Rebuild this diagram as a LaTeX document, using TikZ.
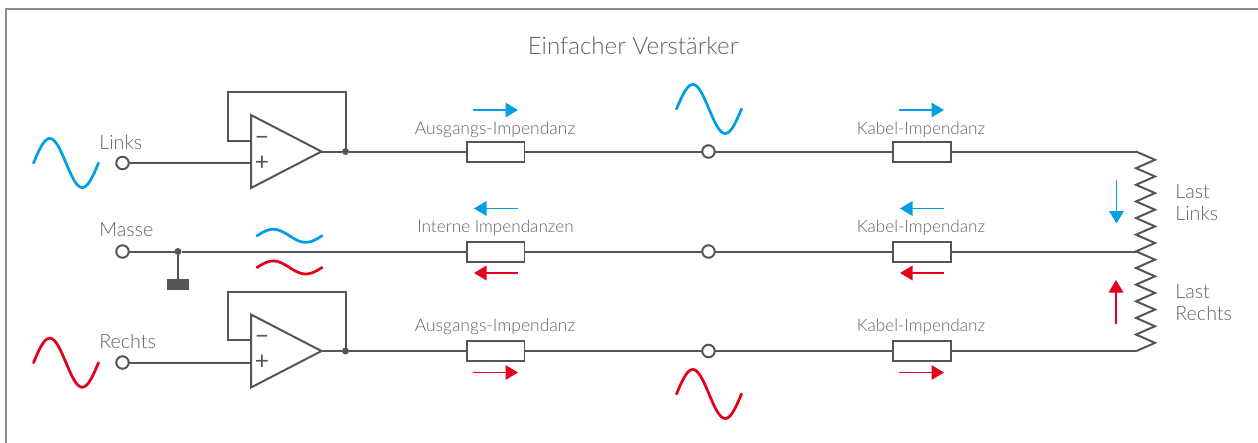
\documentclass[tikz,border=0pt]{standalone}
\usepackage{fontspec}
\setmainfont{Lato}[UprightFont=* Light]
\newfontfamily\zeichen{Lato}
\usetikzlibrary{arrows.meta, shapes.geometric}
\definecolor{wire}{HTML}{555555}
\definecolor{schrift}{HTML}{626262}
\definecolor{rahmen}{HTML}{8C8C98}
\definecolor{blau}{HTML}{009FE3}
\definecolor{rot}{HTML}{E2001A}
\tikzset{
	leitung/.style={draw=wire, line width=0.04cm, line join=miter},
	widerstand/.style={draw=wire, fill=white, line width=0.04cm, minimum width=1.16cm, minimum height=0.4cm, inner sep=0pt, outer sep=0pt},
	buchse/.style={circle, draw=wire, fill=white, line width=0.04cm, minimum size=0.25cm, inner sep=0pt, outer sep=0pt},
	punkt/.style={circle, fill=wire, minimum size=0.14cm, inner sep=0pt, outer sep=0pt},
	verstaerker/.style={isosceles triangle, isosceles triangle stretches, shape border rotate=0, anchor=lower side, draw=wire, line width=0.04cm, minimum height=1.41cm, minimum width=1.46cm, inner sep=0pt, outer sep=0pt},
	klein/.style={font=\fontsize{9.95pt}{11pt}\selectfont, text=schrift, inner sep=0pt},
	kabelText/.style={font=\fontsize{9.75pt}{11pt}\selectfont, text=schrift, inner sep=0pt},
	gross/.style={font=\fontsize{11.2pt}{12pt}\selectfont, text=schrift, inner sep=0pt, anchor=west},
	zeichenText/.style={font=\zeichen\fontsize{14pt}{14pt}\selectfont, text=wire, inner sep=0pt},
	strom/.style={-{Triangle[length=0.25cm, width=0.29cm]}, line width=0.035cm},
	welle/.style={line width=0.055cm, line cap=round}
}
\begin{document}
\begin{tikzpicture}[x=0.02cm, y=-0.02cm]
	\useasboundingbox (0, 0) rectangle (1258, 443);
	\draw[rahmen, line width=0.04cm] (1258, 9) -- (6, 9) -- (6, 443);
	\node[font=\fontsize{13.75pt}{15pt}\selectfont, text=schrift, inner sep=0pt] (titel) at (633, 46) {Einfacher Verstärker};

	% Eingaenge
	\node[buchse] (linksIn) at (122.5, 163) {};
	\node[buchse] (masseIn) at (122.5, 251.5) {};
	\node[buchse] (rechtsIn) at (122.5, 362.5) {};
	\node[gross] (linksText) at (99, 142) {Links};
	\node[gross] (masseText) at (99, 230) {Masse};
	\node[gross] (rechtsText) at (99, 341) {Rechts};

	% Verstaerker
	\node[verstaerker] (ampL) at (251, 151.5) {};
	\node[verstaerker] (ampR) at (251, 351) {};
	\node[punkt] (punktL) at (345.5, 151.5) {};
	\node[punkt] (punktR) at (345.5, 351) {};
	\node[punkt] (punktM) at (178, 251.5) {};
	\node[fill=wire, minimum width=0.45cm, minimum height=0.22cm, inner sep=0pt, outer sep=0pt] (erde) at (178, 284) {};
	\coordinate (minusL) at (251, 141);
	\coordinate (minusR) at (251, 340);
	\coordinate (eckeL) at (228, 92);
	\coordinate (eckeR) at (228, 291.5);
	\node[zeichenText] (mL) at (262, 141) {−};
	\node[zeichenText] (pL) at (262, 163) {+};
	\node[zeichenText] (mR) at (262, 340) {−};
	\node[zeichenText] (pR) at (262, 362.5) {+};

	% Widerstaende und Buchsen
	\node[widerstand] (ausL) at (495.5, 151.5) {};
	\node[widerstand] (intM) at (495.5, 251.5) {};
	\node[widerstand] (ausR) at (495.5, 351) {};
	\node[widerstand] (kabL) at (921.5, 151.5) {};
	\node[widerstand] (kabM) at (921.5, 251.5) {};
	\node[widerstand] (kabR) at (921.5, 351) {};
	\node[buchse] (mitteL) at (708.5, 151.5) {};
	\node[buchse] (mitteM) at (708.5, 251.5) {};
	\node[buchse] (mitteR) at (708.5, 351) {};
	\node[klein] (ausLText) at (495, 129.5) {Ausgangs-Impendanz};
	\node[kabelText] (intMText) at (495.5, 228) {Interne Impendanzen};
	\node[klein] (ausRText) at (495, 327) {Ausgangs-Impendanz};
	\node[kabelText] (kabLText) at (921, 129.5) {Kabel-Impendanz};
	\node[kabelText] (kabMText) at (921, 228) {Kabel-Impendanz};
	\node[kabelText] (kabRText) at (921, 327) {Kabel-Impendanz};

	% Last
	\coordinate (lastO) at (1136, 151.5);
	\coordinate (lastM) at (1136, 251.5);
	\coordinate (lastU) at (1136, 351);
	\node[gross] (lastLText1) at (1175, 192) {Last};
	\node[gross] (lastLText2) at (1175, 213) {Links};
	\node[gross] (lastRText1) at (1175, 292) {Last};
	\node[gross] (lastRText2) at (1175, 313) {Rechts};

	% Leitungen
	\draw[leitung] (linksIn) -- (linksIn -| ampL.lower side);
	\draw[leitung] (rechtsIn) -- (rechtsIn -| ampR.lower side);
	\draw[leitung] (ampL.apex) -- (punktL) -- (ausL) -- (mitteL) -- (kabL) -- (lastO);
	\draw[leitung] (ampR.apex) -- (punktR) -- (ausR) -- (mitteR) -- (kabR) -- (lastU);
	\draw[leitung] (masseIn) -- (punktM) -- (intM) -- (mitteM) -- (kabM) -- (lastM);
	\draw[leitung] (punktM) -- (erde);
	\draw[leitung] (punktL) |- (eckeL) |- (minusL);
	\draw[leitung] (punktR) |- (eckeR) |- (minusR);
	\draw[leitung] (lastO) \foreach \i in {1, ..., 12} { -- ++(19, 8.32) -- ++(-19, 8.32)};

	% Pfeile
	\foreach \xa/\xb/\ya in {473/518/110, 899/944/110, 518/474/208.5, 944/900/208.5}
		\draw[strom, blau] (\xa, \ya) -- (\xb, \ya);
	\foreach \xa/\xb/\ya in {518/474/273, 944/900/273, 473/518/372.5, 899/944/372.5}
		\draw[strom, rot] (\xa, \ya) -- (\xb, \ya);
	\draw[strom, blau] (1116.5, 180) -- (1116.5, 223.5);
	\draw[strom, rot] (1116, 323.5) -- (1116, 280);

	% Wellen
	\foreach \xa/\ya/\amp/\farbe in {33.5/163/24.5/blau, 676.5/109/24.5/blau, 257/235.8/6.5/blau, 33.5/362.7/24.5/rot, 676.5/394/24.5/rot, 257/267.5/6.5/rot}
		\draw[welle, \farbe] plot[domain=0:360, samples=49, smooth] ({\xa + \x / 360 * 65}, {\ya - \amp * sin(\x)});
\end{tikzpicture}
\end{document}
